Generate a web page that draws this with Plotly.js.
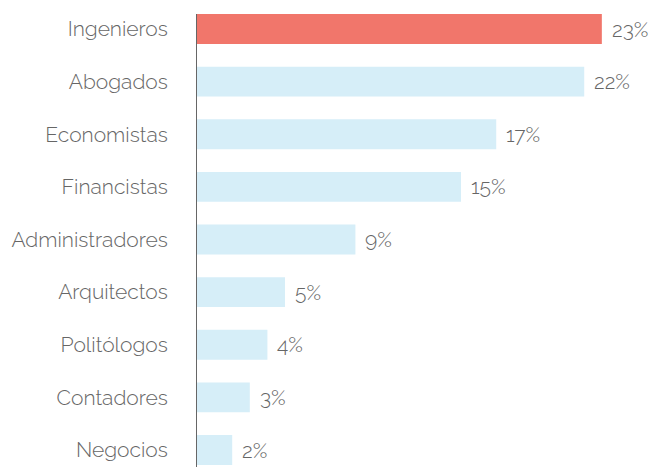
<!DOCTYPE html>
<html><head><meta charset="utf-8">
<script src="https://cdn.plot.ly/plotly-3.0.1.min.js"></script>
<style>html,body{margin:0;padding:0;background:#fff;}</style>
</head><body>
<div id="chart" style="width:652px;height:471px;"></div>
<script>
const categories = ["Negocios","Contadores","Politólogos","Arquitectos","Administradores","Financistas","Economistas","Abogados","Ingenieros"];
const values = [2,3,4,5,9,15,17,22,23];
const labels = ["2%","3%","4%","5%","9%","15%","17%","22%","23%"];
const highlight = "Ingenieros";

const colors = categories.map(c => c === highlight ? "#F1766B" : "#D6EEF8");
const fontFam = "Raleway, Lato, 'Open Sans', sans-serif";

const trace = {
  type: "bar", orientation: "h",
  x: values, y: categories,
  marker: {color: colors},
  width: 0.57,
  hoverinfo: "none"
};

const annotations = categories.map((c, i) => ({
  x: values[i], y: c, xref: "x", yref: "y",
  text: labels[i], showarrow: false, xanchor: "left", xshift: 8,
  font: {family: fontFam, size: 21, color: "#666", weight: 300}
}));

const layout = {
  width: 652, height: 471,
  margin: {l: 197, r: 0, t: 14, b: 4},
  paper_bgcolor: "#fff", plot_bgcolor: "#fff",
  showlegend: false,
  xaxis: {range: [0, 25.85], visible: false, fixedrange: true},
  yaxis: {
    type: "category", range: [-0.323, 8.285],
    showline: true, linecolor: "#666", linewidth: 1,
    showgrid: false, zeroline: false, ticks: "",
    ticklabelstandoff: 24,
    tickfont: {family: fontFam, size: 21, color: "#666", weight: 300}
  },
  annotations: annotations
};

Plotly.newPlot("chart", [trace], layout, {displayModeBar: false, staticPlot: true});
</script>
</body></html>
